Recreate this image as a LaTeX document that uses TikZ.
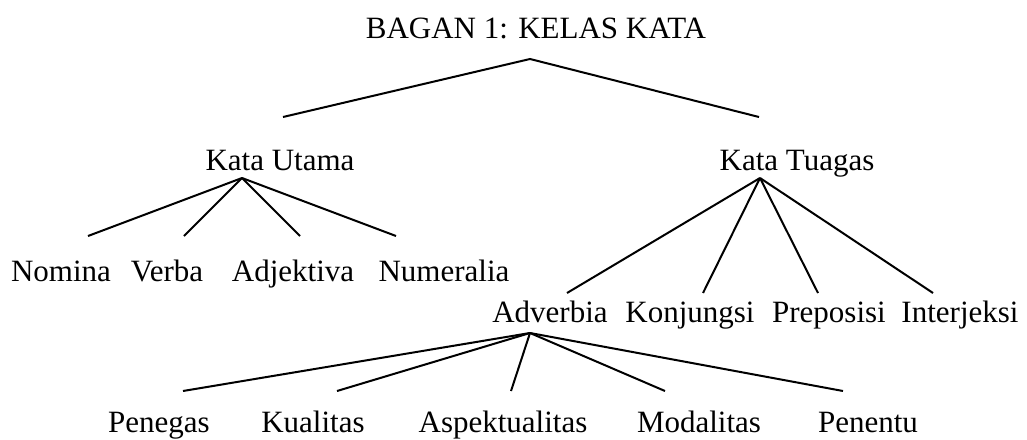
\documentclass[tikz,border=0pt]{standalone}
\usepackage{fontspec}
\setmainfont{Liberation Serif}
\begin{document}
\begin{tikzpicture}[x=1pt,y=-1pt,
  lbl/.style={anchor=base,inner sep=0pt,font=\fontsize{31}{36}\selectfont},
  edge/.style={line width=2pt}]
\useasboundingbox (0,0) rectangle (1027,439);
% texts
\node[lbl] (title) at (536,38) {BAGAN 1: KELAS KATA};
\node[lbl] (utama) at (280,170) {Kata Utama};
\node[lbl] (tugas) at (797,170) {Kata Tuagas};
\node[lbl] (nomina) at (61,281) {Nomina};
\node[lbl] (verba) at (167,281) {Verba};
\node[lbl] (adjektiva) at (293,281) {Adjektiva};
\node[lbl] (numeralia) at (444,281) {Numeralia};
\node[lbl] (adverbia) at (550,322) {Adverbia};
\node[lbl] (konjungsi) at (690,322) {Konjungsi};
\node[lbl] (preposisi) at (829,322) {Preposisi};
\node[lbl] (interjeksi) at (960,322) {Interjeksi};
\node[lbl] (penegas) at (159,432) {Penegas};
\node[lbl] (kualitas) at (313,432) {Kualitas};
\node[lbl] (aspek) at (503,432) {Aspektualitas};
\node[lbl] (modalitas) at (699,432) {Modalitas};
\node[lbl] (penentu) at (868,432) {Penentu};
% connector points
\coordinate (tA) at (530,59);
\coordinate (tL) at (283,117);
\coordinate (tR) at (759,117);
\coordinate (uA) at (242,178);
\coordinate (u1) at (88,236);
\coordinate (u2) at (184,236);
\coordinate (u3) at (300,236);
\coordinate (u4) at (396,236);
\coordinate (gA) at (760,178);
\coordinate (g1) at (567,293);
\coordinate (g2) at (703,293);
\coordinate (g3) at (818,293);
\coordinate (g4) at (933,293);
\coordinate (aA) at (530,333);
\coordinate (a1) at (183,391);
\coordinate (a2) at (337,391);
\coordinate (a3) at (511,391);
\coordinate (a4) at (665,391);
\coordinate (a5) at (843,391);
% connectors
\draw[edge] (tL) -- (tA) -- (tR);
\foreach \e in {u1,u2,u3,u4} \draw[edge] (uA) -- (\e);
\foreach \e in {g1,g2,g3,g4} \draw[edge] (gA) -- (\e);
\foreach \e in {a1,a2,a3,a4,a5} \draw[edge] (aA) -- (\e);
\end{tikzpicture}
\end{document}
